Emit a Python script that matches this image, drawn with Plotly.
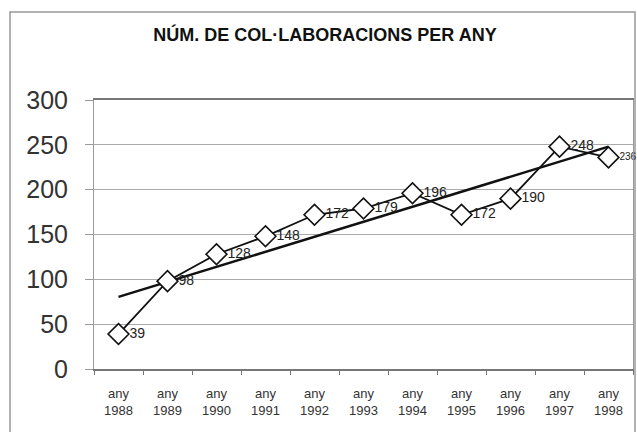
import numpy as np
import plotly.graph_objects as go

years = ["1988", "1989", "1990", "1991", "1992", "1993", "1994", "1995", "1996", "1997", "1998"]
tick_labels = ["any<br>" + y for y in years]
values = [39, 98, 128, 148, 172, 179, 196, 172, 190, 248, 236]
title_text = "NÚM. DE COL·LABORACIONS PER ANY"

xs = np.arange(len(values))
slope, intercept = np.polyfit(xs, values, 1)
trend = [slope * x + intercept for x in (xs[0], xs[-1])]

font_family = "Liberation Sans, Arial, sans-serif"
label_sizes = [14] * (len(values) - 1) + [10]

fig = go.Figure()
fig.add_trace(go.Scatter(
    x=[tick_labels[0], tick_labels[-1]], y=trend, mode="lines",
    line=dict(color="#111111", width=2.5), hoverinfo="skip", showlegend=False,
))
fig.add_trace(go.Scatter(
    x=tick_labels, y=values, mode="lines+markers+text",
    text=[str(v) for v in values], textposition="middle right",
    textfont=dict(family=font_family, size=label_sizes, color="#222222"),
    line=dict(color="#111111", width=1.8),
    marker=dict(symbol="diamond", size=16, color="white",
                line=dict(color="#111111", width=1.6)),
    showlegend=False, cliponaxis=False,
))

fig.update_layout(
    width=637, height=432,
    margin=dict(l=94, r=4, t=100, b=63),
    paper_bgcolor="white", plot_bgcolor="white",
    font=dict(family=font_family, color="#222222"),
    title=dict(text="<b>" + title_text + "</b>", x=325 / 637, xanchor="center",
               y=1 - 35 / 432, yanchor="middle",
               font=dict(family=font_family, size=18, color="#111111")),
    xaxis=dict(
        type="category", categoryorder="array", categoryarray=tick_labels,
        range=[-0.5, len(values) - 0.5],
        showgrid=False, showline=True, linecolor="#777777", linewidth=1.5,
        mirror=True, ticks="outside", tickson="boundaries", ticklen=4,
        tickcolor="#777777", ticklabelstandoff=12,
        tickfont=dict(family=font_family, size=13, color="#333333"),
        zeroline=False,
    ),
    yaxis=dict(
        range=[0, 300], tickvals=[0, 50, 100, 150, 200, 250, 300],
        showgrid=True, gridcolor="#aaaaaa", gridwidth=1,
        showline=True, linecolor="#999999", linewidth=1, mirror=True,
        ticks="outside", ticklen=8, tickcolor="#999999", ticklabelstandoff=12,
        tickfont=dict(family=font_family, size=25, color="#333333"),
        zeroline=False,
    ),
    shapes=[dict(
        type="rect", xref="paper", yref="paper",
        x0=(10 - 94) / 539, x1=(635 - 94) / 539,
        y0=(369 - 445) / 269, y1=(369 - 12) / 269,
        line=dict(color="#999999", width=1.5), layer="below",
    )],
)

fig.write_html("out.html", config={"displayModeBar": False},
               post_script="document.body.style.margin='0';document.body.style.overflow='hidden';")
